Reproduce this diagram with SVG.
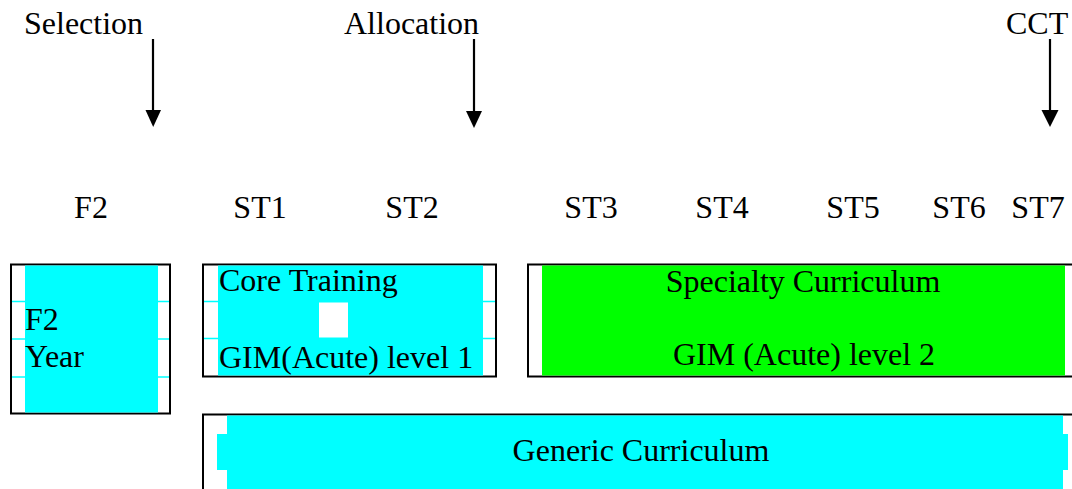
<svg xmlns="http://www.w3.org/2000/svg" width="1072" height="489" viewBox="0 0 1072 489">
<style>
text{font-family:"Liberation Serif","Times New Roman",serif;font-size:32px;fill:#000}
.frame{fill:#fff;stroke:#000;stroke-width:2}
.cyan{fill:#00ffff}
.green{fill:#00ff00}
.rule{stroke:#00ffff;stroke-width:1.5}
.arrow{stroke:#000;stroke-width:2.2;fill:none}
.mid{text-anchor:middle}
</style>
<rect width="1072" height="489" fill="#fff"/>
<g id="milestones">
<text x="24" y="34">Selection</text>
<text x="344" y="34">Allocation</text>
<text x="1006" y="34">CCT</text>
</g>
<g id="connectors">
<line class="arrow" x1="153" y1="39" x2="153" y2="110"/>
<path d="M145.5,110 L161,110 L153.2,127 Z" fill="#000"/>
<line class="arrow" x1="474" y1="39" x2="474" y2="111"/>
<path d="M466,111 L482,111 L474,128 Z" fill="#000"/>
<line class="arrow" x1="1050" y1="39" x2="1050" y2="110"/>
<path d="M1041.5,110 L1058.5,110 L1050,127 Z" fill="#000"/>
</g>
<g id="stages">
<text class="mid" x="91" y="218">F2</text>
<text class="mid" x="260" y="218">ST1</text>
<text class="mid" x="412" y="218">ST2</text>
<text class="mid" x="591" y="218">ST3</text>
<text class="mid" x="722" y="218">ST4</text>
<text class="mid" x="853" y="218">ST5</text>
<text class="mid" x="959" y="218">ST6</text>
<text class="mid" x="1038" y="218">ST7</text>
</g>
<g id="f2-year">
<rect class="frame" x="11" y="264.5" width="159" height="149"/>
<line class="rule" x1="12" y1="301.5" x2="169" y2="301.5"/>
<line class="rule" x1="12" y1="339" x2="169" y2="339"/>
<line class="rule" x1="12" y1="377" x2="169" y2="377"/>
<rect class="cyan" x="25" y="265.5" width="133" height="147"/>
<text x="25" y="330">F2</text>
<text x="25" y="367">Year</text>
</g>
<g id="core-training">
<rect class="frame" x="203" y="264.5" width="293" height="112"/>
<line class="rule" x1="204" y1="301.5" x2="495" y2="301.5"/>
<line class="rule" x1="204" y1="338.5" x2="495" y2="338.5"/>
<rect class="cyan" x="218" y="265.5" width="265" height="110"/>
<rect x="319" y="302.5" width="29" height="35" fill="#fff"/>
<text x="219" y="291">Core Training</text>
<text x="219" y="368">GIM(Acute) level 1</text>
</g>
<g id="specialty-curriculum">
<rect class="frame" x="528" y="264.5" width="560" height="112"/>
<rect class="green" x="542" y="265.5" width="523" height="110"/>
<text class="mid" x="803" y="292">Specialty Curriculum</text>
<text class="mid" x="804" y="365">GIM (Acute) level 2</text>
</g>
<g id="generic-curriculum">
<rect class="frame" x="203" y="414.5" width="900" height="100"/>
<rect class="cyan" x="227" y="415.5" width="836" height="80"/>
<rect class="cyan" x="217" y="434" width="851" height="36"/>
<text class="mid" x="641" y="461">Generic Curriculum</text>
</g>
</svg>
